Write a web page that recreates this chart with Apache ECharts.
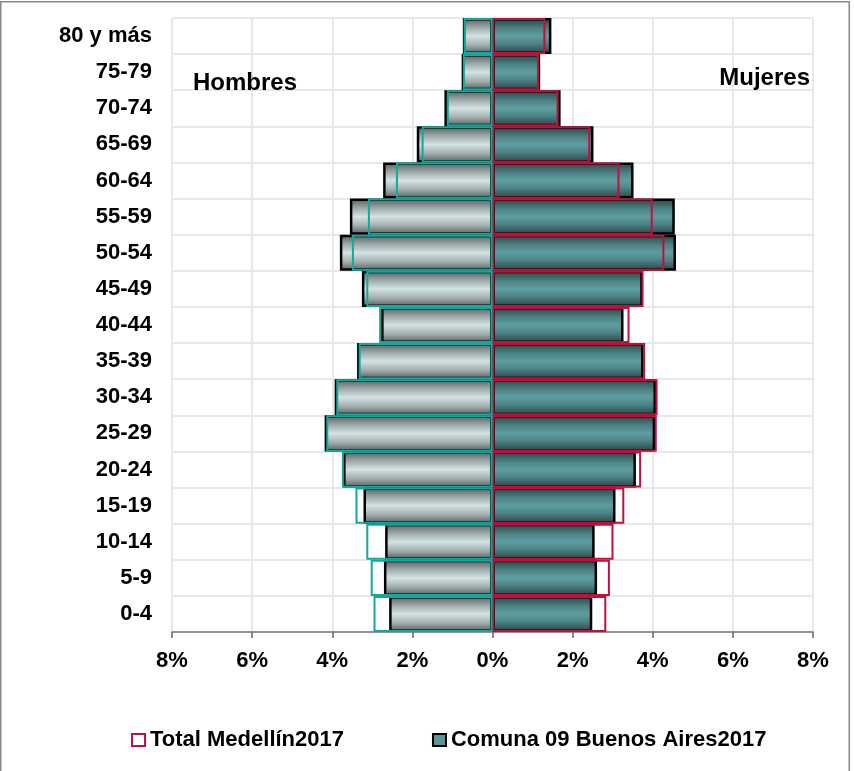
<!DOCTYPE html>
<html>
<head>
<meta charset="utf-8">
<script src="https://cdn.jsdelivr.net/npm/echarts@6/dist/echarts.min.js"></script>
<style>
html,body{margin:0;padding:0;background:#fff;}
#chart{width:854px;height:771px;}
</style>
</head>
<body>
<div id="chart"></div>
<script>
const categories = ['0-4','5-9','10-14','15-19','20-24','25-29','30-34','35-39','40-44','45-49','50-54','55-59','60-64','65-69','70-74','75-79','80 y más'];
const comunaHombres = [2.58,2.71,2.68,3.22,3.73,4.19,3.94,3.38,2.78,3.26,3.81,3.56,2.73,1.89,1.20,0.77,0.74];
const medellinHombres = [2.97,3.04,3.15,3.42,3.76,4.15,3.90,3.34,2.83,3.15,3.51,3.11,2.41,1.77,1.14,0.74,0.72];
const comunaMujeres = [2.49,2.61,2.55,3.07,3.58,4.06,4.08,3.77,3.27,3.75,4.58,4.55,3.52,2.52,1.70,1.19,1.47];
const medellinMujeres = [2.84,2.93,3.02,3.29,3.71,4.10,4.12,3.81,3.42,3.77,4.29,4.00,3.17,2.44,1.65,1.16,1.32];
const xTicks = [-8,-6,-4,-2,0,2,4,6,8];
const nameMedellin = 'Total Medellín2017';
const nameComuna = 'Comuna 09 Buenos Aires2017';

const FONT = '"Liberation Sans", Arial, sans-serif';
const chart = echarts.init(document.getElementById('chart'));

const greyGrad = new echarts.graphic.LinearGradient(0,0,0,1,[
  {offset:0,color:'#555a5a'},
  {offset:0.25,color:'#9aa6a6'},
  {offset:0.5,color:'#d3e2e2'},
  {offset:0.75,color:'#a3afaf'},
  {offset:1,color:'#555a5a'}
]);
const tealGrad = new echarts.graphic.LinearGradient(0,0,0,1,[
  {offset:0,color:'#2a4243'},
  {offset:0.3,color:'#4e8587'},
  {offset:0.5,color:'#5f9ea0'},
  {offset:0.7,color:'#4e8587'},
  {offset:1,color:'#2a4243'}
]);

const option = {
  animation:false,
  backgroundColor:'#fff',
  textStyle:{fontFamily:FONT},
  grid:{left:172,right:41,top:18,bottom:139,containLabel:false},
  xAxis:{
    type:'value',min:-8,max:8,interval:2,
    axisLine:{show:true,lineStyle:{color:'#777',width:1.5}},
    axisTick:{show:true,length:6,lineStyle:{color:'#666',width:1.5}},
    axisLabel:{formatter:v=>Math.abs(v)+'%',fontSize:22,fontWeight:'bold',color:'#000',margin:18,fontFamily:FONT},
    splitLine:{show:true,lineStyle:{color:'#e8e8e8',width:2}}
  },
  yAxis:{
    type:'category',data:categories,
    axisLine:{show:false,onZero:false},
    axisTick:{show:false},
    axisLabel:{fontSize:22,fontWeight:'bold',color:'#000',margin:20,fontFamily:FONT,padding:[3,0,0,0]},
    splitLine:{show:true,lineStyle:{color:'#e8e8e8',width:2}}
  },
  legend:{
    left:126,top:724,itemWidth:13,itemHeight:12,itemGap:88,
    textStyle:{fontSize:22,fontWeight:'bold',color:'#000',fontFamily:FONT},
    selectedMode:false,
    data:[
      {name:nameMedellin,icon:'rect',itemStyle:{color:'#fff',borderColor:'#c0103c',borderWidth:2}},
      {name:nameComuna,icon:'rect',itemStyle:{color:'#5a9597',borderColor:'#000',borderWidth:2}}
    ]
  },
  series:[
    {name:nameComuna,type:'bar',data:comunaMujeres,barGap:'-100%',barCategoryGap:'0%',
     itemStyle:{color:tealGrad,borderColor:'#000',borderWidth:2.5},emphasis:{disabled:true},z:2},
    {name:nameComuna,type:'bar',data:comunaHombres.map(v=>-v),barGap:'-100%',barCategoryGap:'0%',
     itemStyle:{color:greyGrad,borderColor:'#000',borderWidth:2.5},emphasis:{disabled:true},z:2},
    {name:nameMedellin,type:'bar',data:medellinMujeres,barGap:'-100%',barCategoryGap:'0%',
     itemStyle:{color:'rgba(255,255,255,0)',borderColor:'#c0103c',borderWidth:2},emphasis:{disabled:true},z:3},
    {name:nameMedellin,type:'bar',data:medellinHombres.map(v=>-v),barGap:'-100%',barCategoryGap:'0%',
     itemStyle:{color:'rgba(255,255,255,0)',borderColor:'#14a89c',borderWidth:2},emphasis:{disabled:true},z:3}
  ],
  graphic:[
    {type:'rect',shape:{x:0.75,y:1.75,width:848.5,height:790},style:{fill:'none',stroke:'#888',lineWidth:1.5},silent:true,z:10},
    {type:'text',left:193,top:71,style:{text:'Hombres',font:'bold 24px '+FONT,fill:'#000'},z:10},
    {type:'text',right:44,top:66,style:{text:'Mujeres',font:'bold 24px '+FONT,fill:'#000'},z:10}
  ]
};
chart.setOption(option);
</script>
</body>
</html>
